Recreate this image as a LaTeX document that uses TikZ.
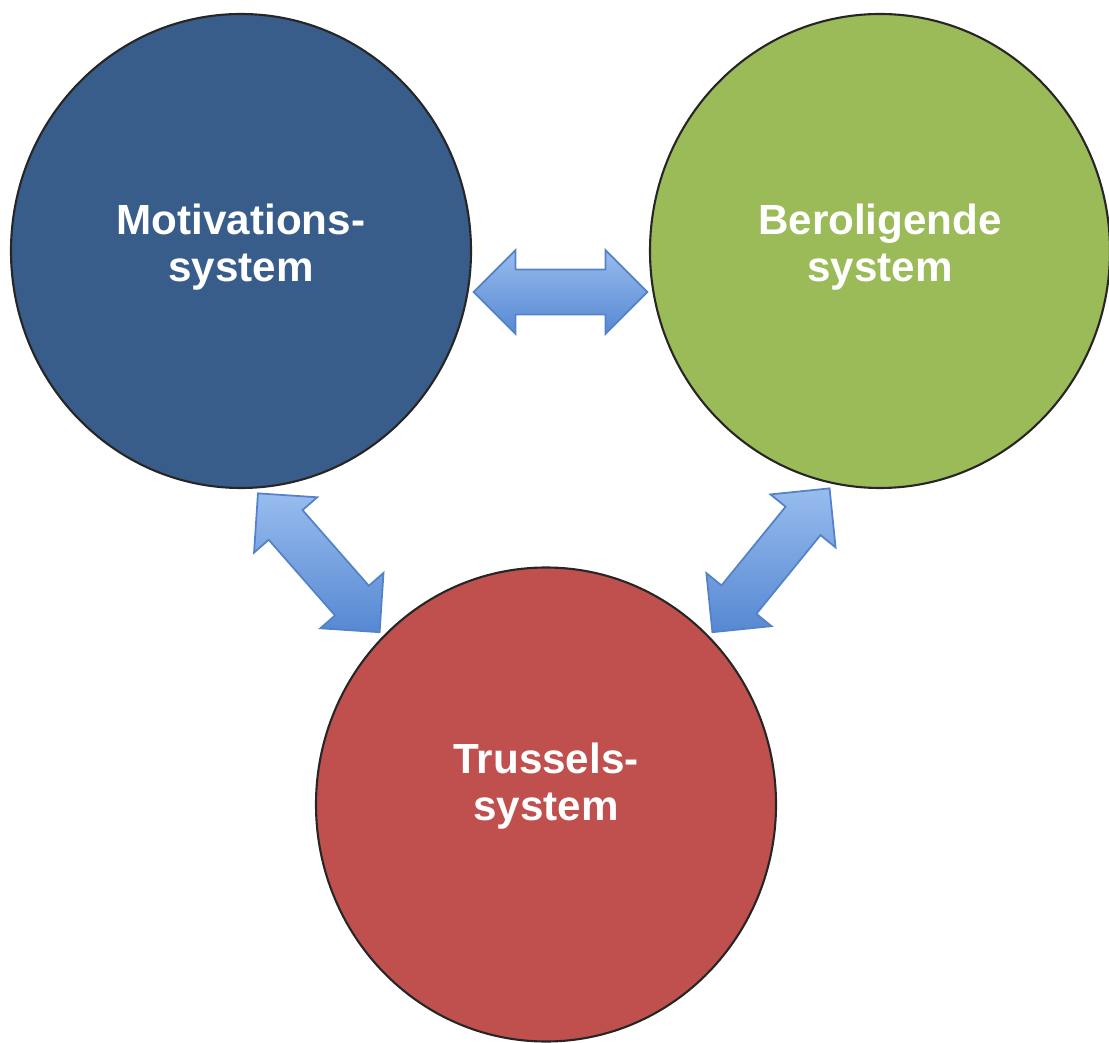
\documentclass[tikz,border=0pt]{standalone}
\usepackage{fontspec}
\setmainfont{Liberation Sans}
\usetikzlibrary{shapes.geometric,calc}

\definecolor{motblue}{RGB}{56,93,138}
\definecolor{bergreen}{RGB}{155,187,89}
\definecolor{trured}{RGB}{192,80,77}
\definecolor{arrowtop}{RGB}{152,188,238}
\definecolor{arrowbot}{RGB}{86,136,210}
\definecolor{arrowline}{RGB}{84,130,200}

\tikzset{
    sys/.style={ellipse, minimum width=4.6cm, minimum height=4.74cm, draw=black!85, line width=0.6pt, outer sep=0.06cm},
    systxt/.style={text=white, font=\bfseries\fontsize{12}{13.4}\selectfont, align=center},
    blockarrow/.style={top color=arrowtop, bottom color=arrowbot, draw=arrowline, line width=0.5pt, line join=miter}
}

% two-headed block arrow from #1 to #2
\newcommand{\dblarrow}[2]{%
    \shade[blockarrow] (#1)
        -- ($(#1)!0.42cm!(#2)!0.42cm!90:(#2)$)
        -- ($(#1)!0.42cm!(#2)!0.225cm!90:(#2)$)
        -- ($(#2)!0.42cm!(#1)!0.225cm!-90:(#1)$)
        -- ($(#2)!0.42cm!(#1)!0.42cm!-90:(#1)$)
        -- (#2)
        -- ($(#2)!0.42cm!(#1)!0.42cm!90:(#1)$)
        -- ($(#2)!0.42cm!(#1)!0.225cm!90:(#1)$)
        -- ($(#1)!0.42cm!(#2)!0.225cm!-90:(#2)$)
        -- ($(#1)!0.42cm!(#2)!0.42cm!-90:(#2)$)
        -- cycle;%
}

\begin{document}
\begin{tikzpicture}
    \useasboundingbox (0,0) rectangle (11.09,10.42);

    % Systems
    \node[sys, fill=motblue]  (mot) at (2.41,7.91) {};
    \node[sys, fill=bergreen] (ber) at (8.80,7.91) {};
    \node[sys, fill=trured]   (tru) at (5.46,2.375) {};

    \node[systxt] (mottxt) at ([yshift=0.04cm]mot.center) {Motivations-\\system};
    \node[systxt] (bertxt) at ([yshift=0.04cm]ber.center) {Beroligende\\system};
    \node[systxt] (trutxt) at ([yshift=0.18cm]tru.center) {Trussels-\\system};

    % Arrows
    \dblarrow{mot.-10}{ber.-170}
    \dblarrow{mot.-86.5}{tru.134.4}
    \dblarrow{ber.-102.3}{tru.46.3}
\end{tikzpicture}
\end{document}
